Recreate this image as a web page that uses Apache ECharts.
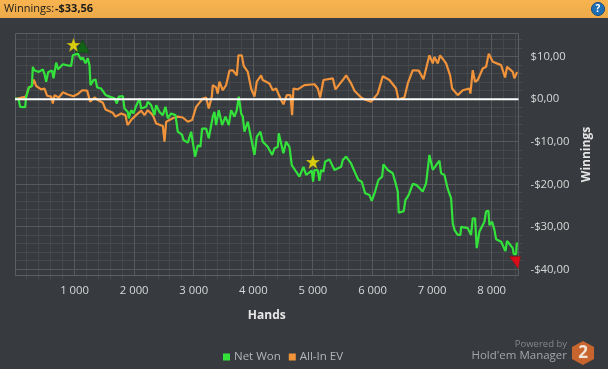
<!DOCTYPE html>
<html><head><meta charset="utf-8">
<style>html,body{margin:0;padding:0;background:#373a3e}#c{width:608px;height:369px}</style>
<script src="https://cdn.jsdelivr.net/npm/echarts@6/dist/echarts.min.js"></script>
</head><body><div id="c"></div>
<script>
const netWon = [[3,0.17],[59,0],[87,-1.8],[120,-2.2],[171,-1.9],[187,0.6],[232,2.75],[283,3.1],[299,7.6],[322,6.8],[344,7.2],[400,6.4],[467,7],[495,5.9],[523,4.1],[557,6.4],[624,6.7],[646,4.9],[691,8.6],[724,7],[803,8.2],[859,8],[942,7.8],[970,10.3],[1054,10.7],[1110,9.3],[1138,9.8],[1183,8.4],[1222,9.6],[1250,8],[1267,3.3],[1317,4.5],[1351,4.6],[1379,2.75],[1446,2.5],[1519,1],[1586,0.6],[1670,0.2],[1709,-1],[1742,0.6],[1810,0.7],[1837,-2.2],[1893,-3],[1910,-4.5],[1949,-2.6],[1988,-3.35],[2033,-1.6],[2089,0.2],[2117,-2.2],[2201,-1.8],[2229,-0.6],[2285,-1.4],[2341,-3.75],[2369,-1.4],[2425,-3],[2481,-3.75],[2525,-1.8],[2564,-4.5],[2620,-3.35],[2693,-3.75],[2732,-7.65],[2805,-8.4],[2827,-9.6],[2900,-10.2],[2956,-7.65],[2984,-7.25],[3023,-13.5],[3068,-10.8],[3112,-11.2],[3140,-6.9],[3208,-6.9],[3252,-9.2],[3319,-4.1],[3347,-3],[3375,-6.1],[3420,-2.6],[3476,-6.1],[3532,-4.1],[3588,-6.1],[3627,-2.6],[3683,-4.1],[3722,-2.6],[3756,0.6],[3795,-3.35],[3823,-4.1],[3851,-7.65],[3907,-5.3],[3946,-8],[4019,-13.1],[4058,-8.8],[4119,-7.65],[4158,-10],[4242,-11.2],[4315,-13.1],[4354,-11.6],[4410,-11.2],[4427,-8],[4466,-10.4],[4505,-12.7],[4550,-10],[4606,-11.2],[4645,-15.5],[4718,-17.05],[4774,-18.2],[4841,-15.9],[4886,-17.8],[4980,-16.8],[5003,-19.4],[5025,-16.65],[5081,-16.65],[5109,-19.2],[5137,-16.65],[5176,-17.05],[5204,-14.7],[5277,-14.15],[5305,-13.9],[5361,-16.65],[5473,-15.9],[5501,-14.3],[5557,-13.5],[5640,-15.1],[5724,-17.8],[5764,-19],[5820,-19.4],[5876,-22.1],[5948,-22.5],[5987,-23.9],[6043,-21.7],[6099,-19],[6161,-18.2],[6183,-15.3],[6256,-16.65],[6340,-17.4],[6396,-20.2],[6424,-21.7],[6440,-26.7],[6524,-26.3],[6552,-23.7],[6608,-22.5],[6676,-19.9],[6743,-20.2],[6776,-19.8],[6843,-21.7],[6899,-19.8],[6955,-13.1],[7011,-16.6],[7123,-14.45],[7151,-17.4],[7207,-17.8],[7263,-21.1],[7319,-23.3],[7347,-29.2],[7375,-30.7],[7431,-31.9],[7475,-31.9],[7487,-30],[7599,-30.3],[7654,-31.9],[7682,-28],[7721,-28],[7749,-35],[7777,-35],[7794,-31.1],[7878,-28.8],[7906,-26.4],[7945,-26.2],[7962,-29.6],[8007,-28.8],[8046,-30.7],[8074,-32.9],[8158,-33.5],[8231,-35.7],[8258,-33.3],[8309,-34.2],[8354,-35],[8370,-36.4],[8410,-36.4],[8421,-33.9],[8437,-33.9]];
const allInEV = [[3,0],[187,0.6],[232,2.75],[283,3.1],[316,4.6],[355,3.1],[439,2.3],[495,2.5],[540,0.8],[607,0.6],[635,-1],[663,0.95],[736,0.4],[803,1.6],[887,1.1],[982,0.7],[1054,1.2],[1127,2.1],[1211,2],[1261,-0.6],[1334,0.4],[1390,-0.2],[1474,-0.85],[1519,-2.4],[1642,-3.2],[1686,-4.1],[1781,-3.35],[1854,-3.75],[1888,-6.1],[1949,-4.9],[2033,-3.75],[2117,-2.7],[2173,-3.75],[2229,-2.6],[2313,-3.75],[2369,-5.7],[2481,-6.3],[2509,-10],[2537,-5.3],[2648,-4.5],[2732,-4.1],[2816,-4.3],[2900,-5.3],[2973,-4.9],[3040,-1.8],[3152,0.17],[3208,0.4],[3252,-2.2],[3303,0.6],[3319,3.3],[3375,2.75],[3403,1.3],[3431,4.1],[3487,2.1],[3543,3.3],[3599,6.7],[3655,6.8],[3722,5.6],[3750,10.3],[3806,10.3],[3840,7.75],[3907,6.4],[3963,2.5],[4019,0.6],[4058,4.1],[4131,5.6],[4158,4.5],[4270,3.7],[4326,2.1],[4382,2.5],[4466,-0.2],[4505,-1.2],[4561,0.95],[4623,0.95],[4651,-3.75],[4673,2.5],[4746,2.3],[4774,2.1],[4858,3.3],[5026,3.5],[5082,2.5],[5121,0.4],[5177,4.5],[5333,4.9],[5378,2.3],[5501,4.5],[5557,5.6],[5641,3.7],[5697,2],[5809,0.4],[5865,-0.06],[5976,-0.6],[6088,1.3],[6172,5.4],[6284,4.5],[6396,2.5],[6435,-0.06],[6536,0.4],[6592,3.7],[6676,6.8],[6776,6.7],[6855,4.7],[6955,10.3],[7011,8.4],[7039,9.9],[7095,8.4],[7134,10.3],[7235,8.4],[7302,5.6],[7336,2.5],[7431,0.95],[7515,2.1],[7626,2.5],[7643,1.3],[7682,6.8],[7721,4.1],[7766,4.5],[7850,7.2],[7906,7.6],[7951,10.7],[8018,8.8],[8158,8],[8225,5.1],[8258,7.6],[8354,6.4],[8381,4.9],[8421,6.2],[8437,6.2]];
const stars = [[982,12.8],[5000,-14.7]];
const highMark = [[1133,12.4]];
const lowMark = [[8390,-38.4]];
const xMajor = [1000,2000,3000,4000,5000,6000,7000,8000];
const xMinor = [200,400,600,800,1200,1400,1600,1800,2200,2400,2600,2800,3200,3400,3600,3800,4200,4400,4600,4800,5200,5400,5600,5800,6200,6400,6600,6800,7200,7400,7600,7800,8200,8400];
const yMajor = [-40,-30,-20,-10,10];
const yMinor = [-38,-36,-34,-32,-28,-26,-24,-22,-18,-16,-14,-12,-8,-6,-4,-2,2,4,6,8,12,14];
const zeroLine = [[0,0],[8450,0]];
const xRange = [0,8450];
const yRange = [-41.5,15.5];
const summary = '-$33,56';

const font = '"Open Sans", "Noto Sans", sans-serif';
const chart = echarts.init(document.getElementById('c'), null, {renderer:'canvas'});
const snap = v => Math.floor(v) + 0.5;
function gridLines(values, orient, color, tick, z) {
  return {
    type:'custom', silent:true, z, clip:false, animation:false,
    data: values.map(v => [v, v]),
    renderItem(params, api) {
      const v = api.value(0), cs = params.coordSys;
      if (orient === 'x') {
        const x = snap(api.coord([v, 0])[0]);
        return {type:'line', shape:{x1:x, y1:snap(cs.y), x2:x, y2:snap(cs.y + cs.height) + tick}, style:{stroke:color, lineWidth:1}};
      }
      const y = snap(api.coord([0, v])[1]);
      return {type:'line', shape:{x1:snap(cs.x), y1:y, x2:snap(cs.x + cs.width) + tick, y2:y}, style:{stroke:color, lineWidth:1}};
    }
  };
}
function fmtHands(v) {
  return v > 0 && v % 1000 === 0 ? Math.floor(v/1000) + ' 000' : '';
}
function fmtMoney(v) {
  if (Math.abs(v) % 10 !== 0) return '';
  return (v < 0 ? '-' : '') + '$' + Math.abs(v) + ',00';
}
chart.setOption({
  animation:false,
  backgroundColor:'#373a3e',
  grid:{left:15, top:33.2, width:503.5, height:242.6, containLabel:false},
  xAxis:{type:'value', min:xRange[0], max:xRange[1], interval:1000,
    name:'Hands', nameLocation:'middle', nameGap:34,
    nameTextStyle:{color:'#e6e6e6', fontFamily:font, fontSize:12, fontWeight:'bold'},
    axisLine:{show:false}, axisTick:{show:false}, splitLine:{show:false},
    axisLabel:{color:'#d8d8d8', fontFamily:font, fontSize:11.3, margin:9, formatter:fmtHands, showMinLabel:false, showMaxLabel:false}},
  yAxis:{type:'value', position:'right', min:yRange[0], max:yRange[1], interval:0.5,
    name:'Winnings', nameLocation:'middle', nameGap:57, nameRotate:90,
    nameTextStyle:{color:'#e6e6e6', fontFamily:font, fontSize:12, fontWeight:'bold'},
    axisLine:{show:false}, axisTick:{show:false}, splitLine:{show:false},
    axisLabel:{color:'#d8d8d8', fontFamily:font, fontSize:11.3, margin:12, align:'left', formatter:fmtMoney}},
  legend:{show:true, left:218, top:346, icon:'rect', itemWidth:7, itemHeight:7, itemGap:8,
    data:['Net Won','All-In EV'], selectedMode:false,
    textStyle:{color:'#b4b6b8', fontFamily:font, fontSize:11.5, padding:[0,0,0,-1]}},
  series:[
    gridLines(xMinor,'x','#46494c',4,1),
    gridLines(yMinor,'y','#46494c',4,1),
    gridLines(xMajor,'x','#56595c',0,2),
    gridLines(yMajor.concat([0]),'y','#56595c',0,2),
    gridLines(xRange,'x','#5c5f62',0,3),
    gridLines(yRange,'y','#5c5f62',0,3),
    {name:'All-In EV', type:'line', data:allInEV, z:5, color:'#f0933a', showSymbol:false, lineStyle:{width:2.2, color:'#f0933a', join:'bevel'}, silent:true},
    {name:'Net Won', type:'line', data:netWon, z:6, color:'#33e33c', showSymbol:false, lineStyle:{width:2.2, color:'#33e33c', join:'bevel'}, silent:true},
    {name:'zero', type:'line', data:zeroLine, z:7, showSymbol:false, lineStyle:{width:2, color:'#ffffff'}, silent:true},
    {name:'best', type:'scatter', data:highMark, z:8, symbol:'triangle', symbolSize:[13,12], itemStyle:{color:'#0a6e0c', borderColor:'#0a4d0c', borderWidth:1}, silent:true},
    {name:'stars', type:'scatter', data:stars, z:9, symbol:'path://M50 0 L63 36 L100 36 L70 58 L81 95 L50 73 L19 95 L30 58 L0 36 L37 36 Z', symbolSize:15, itemStyle:{color:'#ffee00', borderColor:'#2a3148', borderWidth:0.5}, silent:true},
    {name:'worst', type:'scatter', data:lowMark, z:8, symbol:'path://M0 0 L100 0 L80 100 Z', symbolSize:[11,12], clip:false, itemStyle:{color:'#ff0010', borderColor:'#8c1010', borderWidth:0.5}, silent:true}
  ],
  graphic:[
    {type:'rect', z:10, shape:{x:0,y:0,width:608,height:18}, style:{fill:new echarts.graphic.LinearGradient(0,0,0,1,[{offset:0,color:'#f7b44f'},{offset:1,color:'#ecaa4a'}])}},
    {type:'text', z:11, left:4, top:3, style:{text:'Winnings:', fill:'#1b1b1b', font:'11px '+font}},
    {type:'text', z:11, left:55, top:3, style:{text:summary, fill:'#1b1b1b', font:'bold 11px '+font}},
    {type:'circle', z:11, shape:{cx:598,cy:9,r:6.5}, style:{fill:'#1f6fb5', stroke:'#134a80', lineWidth:1}},
    {type:'text', z:12, x:598, y:9, style:{text:'?', fill:'#ffffff', font:'bold 10px '+font, align:'center', verticalAlign:'middle'}},
    {type:'text', z:11, x:567, y:344, style:{text:'Powered by', fill:'#85888b', font:'9.5px '+font, align:'right', verticalAlign:'middle'}},
    {type:'text', z:11, x:567, y:356, style:{text:"Hold'em Manager", fill:'#a4a6a8', font:'11.5px '+font, align:'right', verticalAlign:'middle'}},
    {type:'polygon', z:11, shape:{points:[[583,341],[594,347],[594,359],[583,365],[572,359],[572,347]]}, style:{fill:'#c8652e'}},
    {type:'text', z:12, x:583, y:353, style:{text:'2', fill:'#f2e3d8', font:'bold 17px '+font, align:'center', verticalAlign:'middle'}}
  ]
});
</script></body></html>
